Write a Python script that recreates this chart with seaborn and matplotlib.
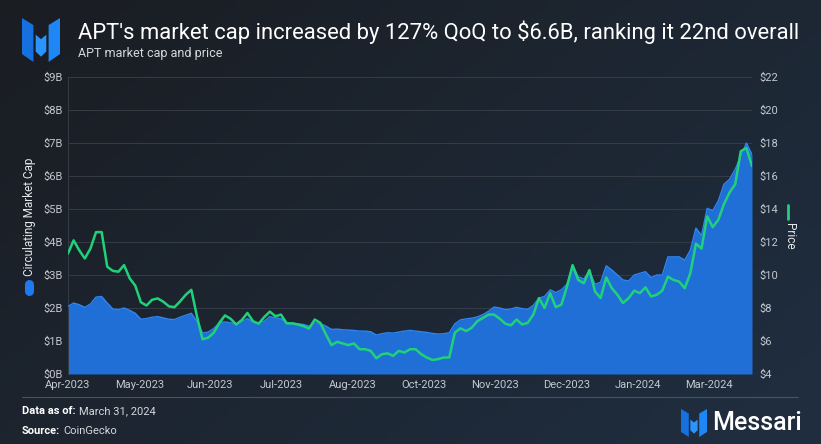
import numpy as np
import pandas as pd
import matplotlib
matplotlib.use("Agg")
import matplotlib.pyplot as plt
from matplotlib.lines import Line2D
from matplotlib.patches import Polygon
import seaborn as sns

# APT circulating market cap ($B) and price ($), ~3-day steps
market_cap_b = [
    2.05, 2.15, 2.10, 2.02, 2.12, 2.33, 2.35, 2.15, 1.97, 1.95,
    2.00, 1.93, 1.84, 1.66, 1.68, 1.72, 1.74, 1.70, 1.66, 1.65,
    1.72, 1.78, 1.84, 1.60, 1.24, 1.27, 1.38, 1.55, 1.58, 1.55,
    1.52, 1.58, 1.68, 1.58, 1.55, 1.60, 1.74, 1.70, 1.68, 1.55,
    1.54, 1.52, 1.50, 1.45, 1.55, 1.53, 1.45, 1.35, 1.36, 1.34,
    1.33, 1.32, 1.30, 1.30, 1.28, 1.18, 1.22, 1.25, 1.24, 1.27,
    1.30, 1.32, 1.30, 1.28, 1.26, 1.23, 1.21, 1.22, 1.25, 1.52,
    1.64, 1.67, 1.69, 1.73, 1.80, 1.90, 2.03, 2.00, 1.95, 1.97,
    2.02, 1.98, 1.96, 2.08, 2.30, 2.35, 2.55, 2.47, 2.55, 2.72,
    3.30, 2.95, 2.88, 3.12, 2.72, 2.78, 3.28, 3.15, 3.00, 2.85,
    2.82, 3.00, 3.05, 3.10, 2.92, 3.00, 3.00, 3.55, 3.55, 3.55,
    3.45, 3.75, 4.42, 4.20, 5.02, 4.95, 5.25, 5.75, 5.90, 6.20,
    6.60, 7.00, 6.65,
]
price_usd = [
    11.3, 12.1, 11.5, 11.0, 11.6, 12.6, 12.6, 10.5, 10.25, 10.2,
    10.6, 9.8, 9.35, 8.35, 8.15, 8.5, 8.58, 8.38, 8.1, 8.05,
    8.4, 8.8, 9.1, 7.5, 6.1, 6.2, 6.5, 7.1, 7.55, 7.35,
    7.0, 7.27, 7.7, 7.2, 7.05, 7.45, 7.78, 7.5, 7.6, 7.07,
    7.07, 7.0, 6.9, 6.75, 7.3, 7.1, 6.4, 5.75, 5.95, 5.85,
    5.75, 5.85, 5.5, 5.5, 5.4, 4.95, 5.2, 5.25, 5.1, 5.4,
    5.3, 5.5, 5.5, 5.2, 5.0, 4.85, 4.9, 5.0, 5.0, 6.5,
    6.77, 6.6, 6.8, 7.2, 7.4, 7.6, 7.6, 7.35, 7.05, 6.95,
    7.3, 7.0, 7.1, 7.6, 8.6, 8.0, 8.9, 8.05, 8.2, 9.3,
    10.6, 9.7, 9.5, 10.3, 9.0, 8.6, 9.85, 9.2, 8.8, 8.3,
    8.6, 9.05, 8.9, 9.25, 8.7, 8.8, 9.05, 9.9, 9.7, 9.6,
    9.2, 10.1, 11.9, 11.6, 13.55, 12.9, 13.35, 14.3, 15.0, 15.5,
    17.5, 17.7, 16.6,
]
start_date = "2023-04-01"
end_date = "2024-03-31"
cap_ticks = list(range(0, 10))
price_ticks = list(range(4, 23, 2))

title = "APT's market cap increased by 127% QoQ to $6.6B, ranking it 22nd overall"
subtitle = "APT market cap and price"

BLUE = "#1f6fd6"
BLUE_EDGE = "#2f86f2"
GREEN = "#1fd27a"
TICK = "#c3c8cf"
GRID = "#363c45"

dates = pd.date_range(start_date, end_date, periods=len(market_cap_b))
df = pd.DataFrame({"date": dates, "market_cap": market_cap_b, "price": price_usd})
tick_dates = pd.date_range(start_date, periods=10, freq="38D")

sns.set_theme(style="dark")
plt.rcParams["font.family"] = ["Roboto", "DejaVu Sans"]

W, H = 821, 444
fig = plt.figure(figsize=(W / 100, H / 100), dpi=100)

# background gradient
bg = fig.add_axes([0, 0, 1, 1], zorder=-10)
xx, yy = np.meshgrid(np.linspace(0, 1, 200), np.linspace(0, 1, 100))
t = np.clip(0.65 * xx + 0.45 * yy, 0, 1)
c0 = np.array([0x1a, 0x1d, 0x22]) / 255
c1 = np.array([0x1f, 0x2d, 0x3e]) / 255
bg.imshow(c0 + (c1 - c0) * t[..., None], aspect="auto", extent=[0, 1, 0, 1], origin="upper")
bg.axis("off")


def px(x, y):
    return x / W, 1 - y / H


left, top, right, bottom = 68, 77, 752, 374
ax = fig.add_axes([left / W, 1 - bottom / H, (right - left) / W, (bottom - top) / H])
ax.patch.set_alpha(0)
ax.fill_between(df["date"], 0, df["market_cap"], color=BLUE, lw=0, zorder=2)
sns.lineplot(data=df, x="date", y="market_cap", ax=ax, color=BLUE_EDGE, lw=1.0, zorder=3)
ax.set_ylim(0, 9)
ax.set_xlim(dates[0], dates[-1])
ax.set_yticks(cap_ticks)
ax.set_yticklabels([f"${v}B" for v in cap_ticks])
ax.set_xticks(tick_dates)
ax.set_xticklabels([d.strftime("%b-%Y") for d in tick_dates])
ax.set_xlabel("")
ax.set_ylabel("")
ax.yaxis.grid(True, color=GRID, lw=0.7)
ax.xaxis.grid(False)
ax.set_axisbelow(True)
for side, sp in ax.spines.items():
    sp.set_visible(side == "left")
ax.spines["left"].set_color(GRID)
ax.spines["left"].set_linewidth(0.7)
ax.tick_params(axis="both", length=0, colors=TICK, labelsize=8)
ax.tick_params(axis="y", pad=4)
ax.tick_params(axis="x", pad=4)

ax2 = ax.twinx()
sns.lineplot(data=df, x="date", y="price", ax=ax2, color=GREEN, lw=1.8)
ax2.set_ylim(4, 22)
ax2.set_yticks(price_ticks)
ax2.set_yticklabels([f"${v}" for v in price_ticks])
ax2.set_ylabel("")
ax2.grid(False)
for sp in ax2.spines.values():
    sp.set_visible(False)
ax2.tick_params(axis="y", length=0, colors=TICK, labelsize=8, pad=5)

# axis titles with legend keys
fig.text(*px(29, 217), "Circulating Market Cap", rotation=90, color="#e4e7eb",
         fontsize=8.5, ha="center", va="center")
fig.add_artist(Line2D([0.29, 0.29], [(H - 291) / 100, (H - 284) / 100],
                      transform=fig.dpi_scale_trans, color="#1f7af0", lw=6.5,
                      solid_capstyle="round"))
fig.text(*px(789, 236), "Price", rotation=270, color="#e4e7eb",
         fontsize=8.5, ha="center", va="center")
fig.add_artist(Line2D([7.88, 7.88], [(H - 219) / 100, (H - 205) / 100],
                      transform=fig.dpi_scale_trans, color=GREEN, lw=2))

# title block
fig.text(*px(78, 32), title, color="white", fontsize=15.8, ha="left", va="center")
fig.text(*px(78, 53), subtitle, color="#d5d9de", fontsize=9, ha="left", va="center")


def draw_logo(x0, y0, w, h):
    lax = fig.add_axes([x0 / W, 1 - (y0 + h) / H, w / W, h / H])
    lax.set_xlim(0, 1)
    lax.set_ylim(0, 1)
    lax.axis("off")
    shapes = [
        ([(0, 1.0), (0.3, 0.84), (0.3, 0.0), (0, 0.18)], "#1670e0"),
        ([(0.36, 0.62), (0.5, 0.52), (0.5, 0.12), (0.36, 0.24)], "#2a95ff"),
        ([(0.64, 0.62), (0.5, 0.52), (0.5, 0.12), (0.64, 0.24)], "#2a95ff"),
        ([(1, 1.0), (0.7, 0.84), (0.7, 0.0), (1, 0.18)], "#1f86f5"),
    ]
    for pts, col in shapes:
        lax.add_patch(Polygon(pts, closed=True, color=col, lw=0))


draw_logo(22, 18, 38, 44)
draw_logo(681, 409, 26, 28)
fig.text(*px(712, 423), "Messari", color="white", fontsize=18, fontweight="medium",
         ha="left", va="center")

# footer
fig.add_artist(Line2D([22 / W, 798 / W], [1 - 397 / H] * 2, color="#4a525e", lw=0.8))
t1 = fig.text(*px(22, 411), "Data as of:", color="white", fontsize=8,
              fontweight="bold", ha="left", va="center")
t2 = fig.text(*px(22, 431), "Source:", color="white", fontsize=8, fontweight="bold",
              ha="left", va="center")
fig.canvas.draw()
r = fig.canvas.get_renderer()
w1 = t1.get_window_extent(r).width
fig.text(*px(22 + w1 + 3, 411), "March 31, 2024", color="#d5d9de", fontsize=8,
         ha="left", va="center")
w2 = t2.get_window_extent(r).width
fig.text(*px(22 + w2 + 3, 431), "CoinGecko", color="#d5d9de", fontsize=8,
         ha="left", va="center")

fig.savefig("out.png", dpi=100)
